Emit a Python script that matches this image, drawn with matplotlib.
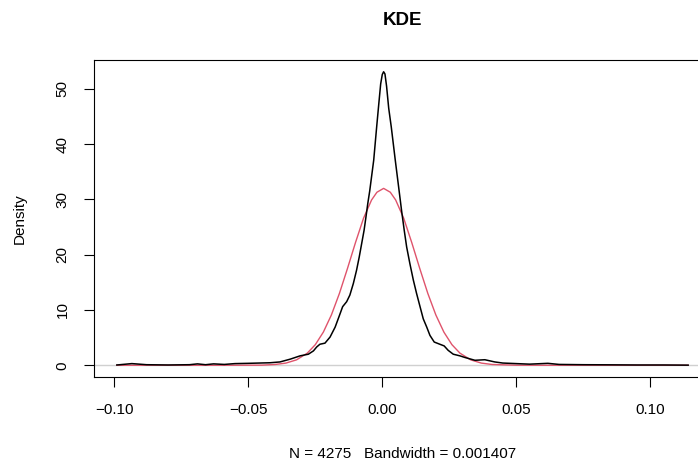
import matplotlib
matplotlib.use('Agg')
import matplotlib.pyplot as plt
import numpy as np

# KDE estimate (black)
kde_x = [-0.0991, -0.0935, -0.088, -0.080, -0.072, -0.069, -0.066, -0.063, -0.059,
         -0.055, -0.050, -0.046, -0.042, -0.0382, -0.0344, -0.0307, -0.0276, -0.0257,
         -0.0245, -0.0233, -0.0214, -0.0195, -0.0176, -0.0160, -0.0148, -0.0133,
         -0.0121, -0.0108, -0.0096, -0.0086, -0.0077, -0.0068, -0.0061, -0.0054,
         -0.0047, -0.0032, -0.0021, -0.0013, -0.0006, 0.0000, 0.0005, 0.0010,
         0.0016, 0.0024, 0.00336, 0.00485, 0.0063, 0.0072, 0.0082, 0.0091, 0.0103,
         0.0116, 0.0128, 0.0141, 0.0153, 0.0166, 0.0178, 0.0194, 0.0215, 0.0231,
         0.0246, 0.0265, 0.0290, 0.0309, 0.0346, 0.0383, 0.042, 0.045, 0.050, 0.055,
         0.0618, 0.066, 0.075, 0.085, 0.095, 0.105, 0.1142]
kde_y = [0.05, 0.3, 0.1, 0.05, 0.1, 0.25, 0.1, 0.25, 0.15,
         0.3, 0.35, 0.4, 0.45, 0.6, 1.1, 1.7, 2.0, 2.6,
         3.3, 3.8, 4.0, 5.1, 6.9, 9.0, 10.6, 11.5,
         12.7, 14.8, 17.2, 19.6, 22.0, 24.4, 26.8, 29.3,
         31.5, 37.1, 43.1, 47.3, 50.9, 52.6, 53.1, 52.7,
         50.5, 46.5, 43.1, 37.1, 31.5, 28.0, 24.4, 21.4, 18.4,
         15.4, 13.0, 10.6, 8.4, 6.9, 5.4, 4.2, 3.8, 3.5,
         2.7, 2.0, 1.7, 1.4, 0.9, 1.0, 0.6, 0.4, 0.3, 0.2,
         0.35, 0.15, 0.1, 0.08, 0.05, 0.05, 0.02]

# normal reference curve (red)
norm_x = [-0.0991, -0.060, -0.045, -0.040, -0.036, -0.032, -0.028, -0.025, -0.022,
          -0.019, -0.016, -0.013, -0.010, -0.007, -0.004, -0.002, 0.0005, 0.003,
          0.005, 0.008, 0.011, 0.014, 0.017, 0.020, 0.023, 0.026, 0.029, 0.033,
          0.037, 0.041, 0.050, 0.060, 0.1142]
norm_y = [0.0, 0.0, 0.02, 0.14, 0.39, 0.98, 2.19, 3.73, 6.0,
          9.1, 13.0, 17.5, 22.2, 26.6, 29.9, 31.3, 32.0, 31.3,
          29.9, 26.6, 22.2, 17.5, 13.0, 9.1, 6.0, 3.73, 2.19, 0.98,
          0.39, 0.14, 0.01, 0.0, 0.0]

x_ticks = [-0.10, -0.05, 0.00, 0.05, 0.10]
x_ticklabels = ['\u22120.10', '\u22120.05', '0.00', '0.05', '0.10']
y_ticks = [0, 10, 20, 30, 40, 50]

plt.rcParams['font.family'] = ['Liberation Sans', 'DejaVu Sans']

W, H = 698, 461
fig = plt.figure(figsize=(W / 100, H / 100), dpi=100)
# right edge of the plot box sits past the image edge, like the original
ax = fig.add_axes([94 / W, 1 - 377 / H, (711 - 94) / W, (377 - 60) / H])

ax.axhline(0, color='#d0d0d0', lw=1.0, zorder=1)
ax.plot(kde_x, kde_y, color='black', lw=1.1, zorder=3, solid_joinstyle='round')
ax.plot(norm_x, norm_y, color='#DF536B', lw=1.0, zorder=2, solid_joinstyle='round')

# R style 4% padding
lo, hi = min(kde_x), max(kde_x)
ax.set_xlim(lo - 0.04 * (hi - lo), hi + 0.04 * (hi - lo))
ymax = max(kde_y)
ax.set_ylim(-0.04 * ymax, 1.04 * ymax)

ax.set_xticks(x_ticks)
ax.set_xticklabels(x_ticklabels)
ax.set_yticks(y_ticks)
ax.set_yticklabels([str(v) for v in y_ticks], rotation=90, va='center')
ax.tick_params(direction='out', length=7.5, width=0.8, labelsize=11)
ax.tick_params(axis='x', pad=11)
ax.tick_params(axis='y', pad=10)
for s in ax.spines.values():
    s.set_linewidth(0.8)

ax.set_title('KDE', fontsize=13.5, fontweight='bold', pad=25)
ax.set_xlabel('N = 4275   Bandwidth = 0.001407', fontsize=11, labelpad=22)
ax.set_ylabel('Density', fontsize=11)
ax.yaxis.set_label_coords((27 - 94) / (711 - 94), 0.5)

fig.savefig('out.png', dpi=100)
